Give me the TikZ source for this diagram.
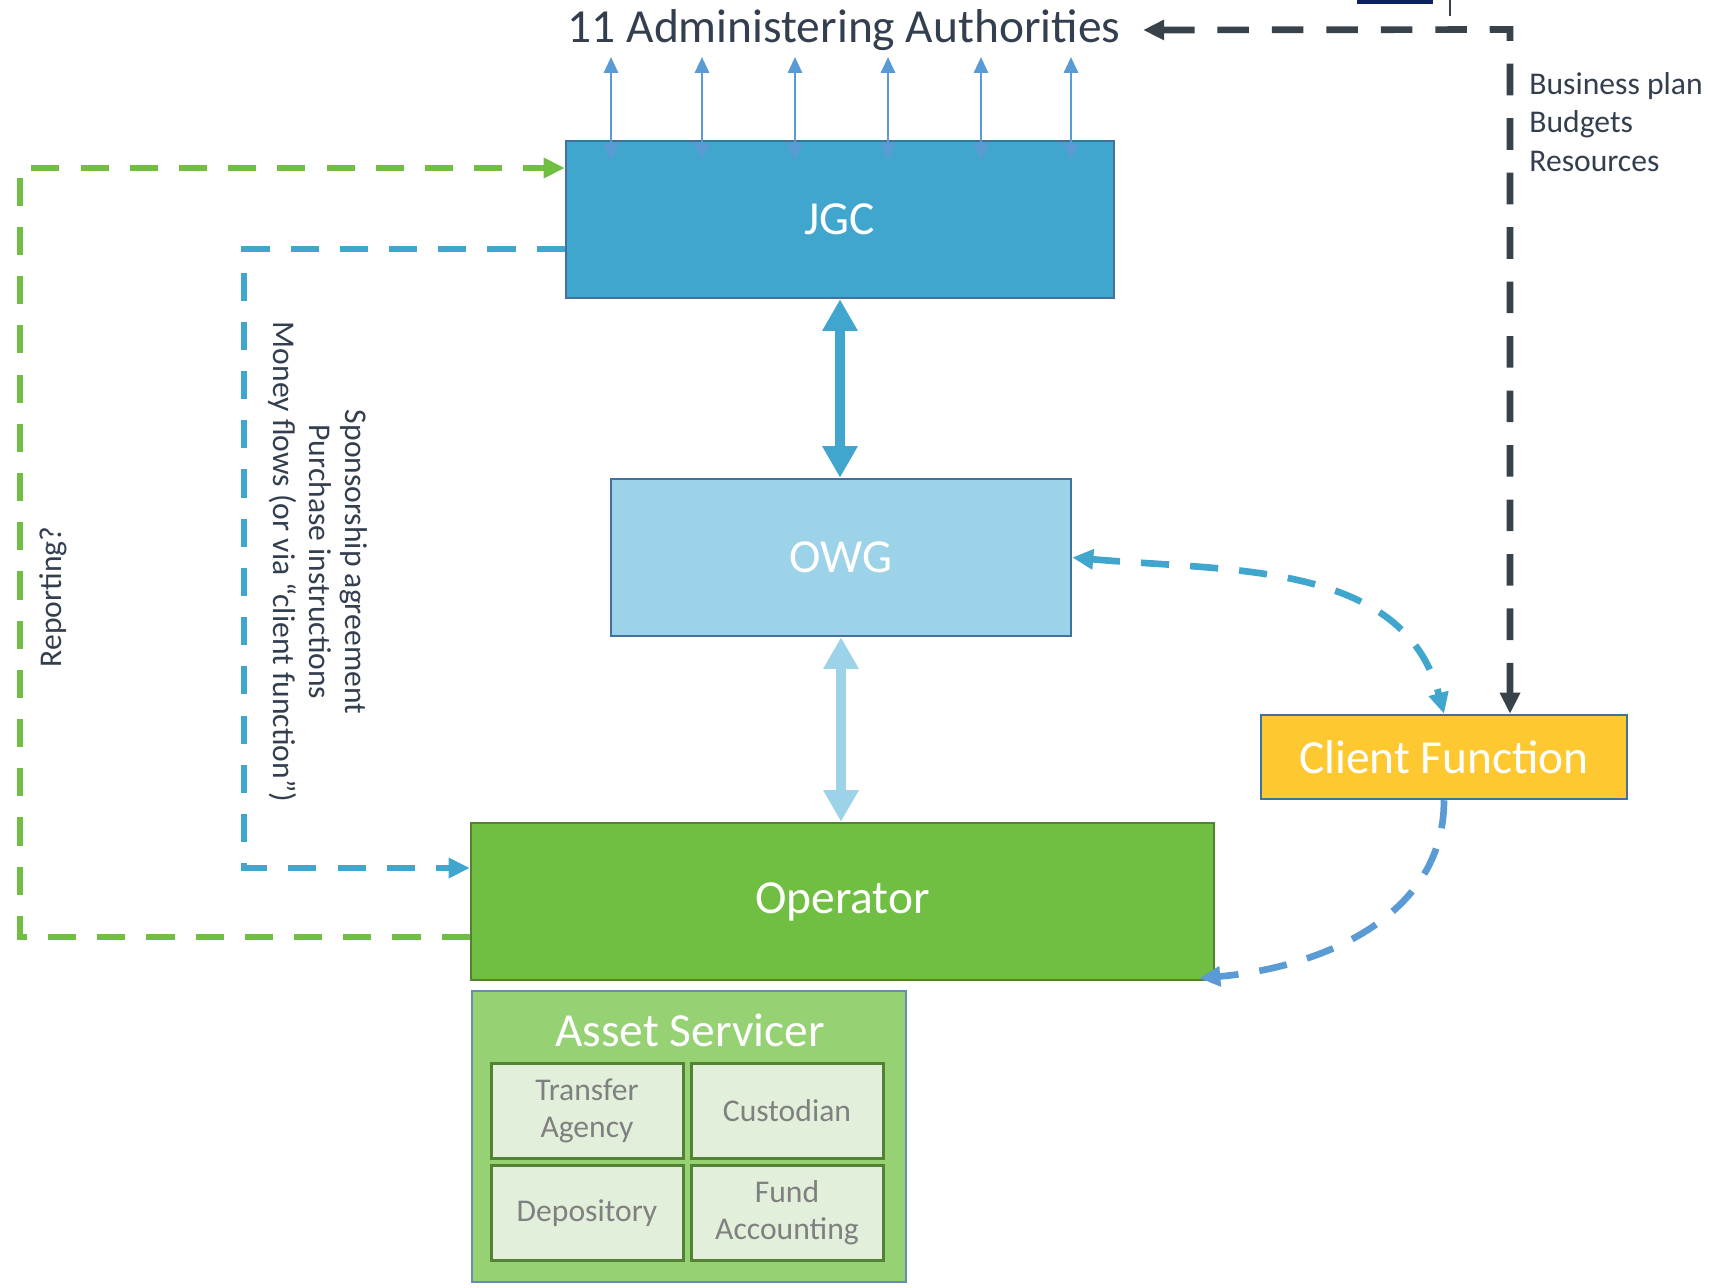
\documentclass[tikz,border=0pt]{standalone}
\usepackage{fontspec}
\setmainfont{Carlito}
\usepackage{xcolor}
\usetikzlibrary{arrows.meta,positioning,calc}
\definecolor{jgcblue}{HTML}{41A6CE}
\definecolor{owgblue}{HTML}{9DD3E8}
\definecolor{opgreen}{HTML}{70BF43}
\definecolor{opedge}{HTML}{548235}
\definecolor{asgreen}{HTML}{96D273}
\definecolor{subfill}{HTML}{E2EFDA}
\definecolor{cfyellow}{HTML}{FDC830}
\definecolor{edgeblue}{HTML}{41719C}
\definecolor{linkblue}{HTML}{5B9BD5}
\definecolor{slate}{HTML}{37424A}
\definecolor{txtdark}{HTML}{333F4F}
\definecolor{navy}{HTML}{0B2160}
\tikzset{
  box/.style={rectangle, draw=edgeblue, line width=1.4pt, align=center,
    text=white, font=\fontsize{27}{32}\selectfont, inner sep=0pt},
  subbox/.style={rectangle, draw=opedge, line width=1.7pt, fill=subfill,
    align=center, text=black!50, font=\fontsize{18}{21}\selectfont,
    inner sep=0pt, minimum width=3.84cm, minimum height=1.9cm},
  lbl/.style={text=txtdark, font=\fontsize{18}{20.5}\selectfont, align=center, inner sep=0pt},
  fatarrow/.style={{Triangle[length=18pt,width=19pt]}-{Triangle[length=18pt,width=19pt]}, line width=5.7pt},
  thinarrow/.style={{Triangle[length=9pt,width=8pt]}-{Triangle[length=9pt,width=8pt]}, line width=1.5pt, linkblue},
  dashflow/.style={-{Triangle[length=12pt,width=11pt]}, line width=3.8pt, dash pattern=on 16pt off 12pt},
}
\begin{document}
\begin{tikzpicture}
\useasboundingbox (0,0) rectangle (34.38,-25.74);
% Boxes
\node[lbl, font=\fontsize{27}{32}\selectfont, inner xsep=0.45cm] (title) at (16.88,-0.6) {11 Administering Authorities};
\node[box, fill=jgcblue, minimum width=10.96cm, minimum height=3.14cm] (jgc) at (16.8,-4.39) {JGC};
\node[box, fill=owgblue, minimum width=9.2cm, minimum height=3.14cm] (owg) at (16.82,-11.15) {OWG};
\node[box, fill=opgreen, draw=opedge, minimum width=14.86cm, minimum height=3.14cm] (op) at (16.85,-18.03) {Operator};
\node[box, fill=cfyellow, minimum width=7.32cm, minimum height=1.68cm] (cf) at (28.88,-15.14) {Client Function};
% Asset servicer group
\node[box, fill=asgreen, draw=edgeblue!80, minimum width=8.68cm, minimum height=5.82cm] (asset) at (13.78,-22.73) {};
\node[box, draw=none] (astitle) at (13.8,-20.6) {Asset Servicer};
\node[subbox] (ta)   at (11.74,-22.21) {Transfer\\Agency};
\node[subbox] (cust) at (15.74,-22.21) {Custodian};
\node[subbox] (dep)  at (11.74,-24.26) {Depository};
\node[subbox] (fa)   at (15.74,-24.26) {Fund\\Accounting};
% Labels
\node[lbl, font=\fontsize{18}{21.8}\selectfont, align=left, anchor=west] (plan) at (30.58,-2.44) {Business plan\\Budgets\\Resources};
\node[lbl, rotate=90] (rep) at (1.06,-11.94) {Reporting?};
\node[lbl, rotate=-90] (money) at (6.36,-11.24) {Sponsorship agreement\\Purchase instructions\\Money flows (or via “client function”)};
% Cut-off shapes at the top edge
\fill[navy] (27.14,0) rectangle (28.66,-0.08);
\draw[slate, line width=1pt] (29.0,0) -- (29.0,-0.32);
% Links to the authorities
\foreach \x in {12.22,14.04,15.9,17.76,19.62,21.42}
  \draw[thinarrow] ([yshift=-0.4cm]jgc.north -| \x,0) -- (\x,-1.14);
% Main links
\draw[fatarrow, jgcblue] (jgc.south) -- (jgc.south |- owg.north);
\draw[fatarrow, owgblue] (owg.south) -- (owg.south |- op.north);
% Dashed flows
\coordinate (repbot) at (0.4,-18.74);
\coordinate (reptop) at (0.4,-3.36);
\draw[dashflow, opgreen] (op.west |- repbot) -- (repbot) -- (reptop) -- (jgc.west |- reptop);
\coordinate (montop) at (4.88,-4.98);
\coordinate (monbot) at (4.88,-17.36);
\draw[dashflow, jgcblue] (jgc.west |- montop) -- (montop) -- (monbot) -- (op.west |- monbot);
\coordinate (bend) at (30.2,-0.59);
\draw[dashflow, slate, {Triangle[length=12pt,width=11pt]}-{Triangle[length=12pt,width=11pt]}, dash pattern=on 18pt off 13pt]
  (title.east) -- (bend) -- (bend |- cf.north);
\draw[dashflow, jgcblue, {Triangle[length=12pt,width=11pt]}-{Triangle[length=12pt,width=11pt]}]
  (owg.east) to[out=-5, in=105] (cf.north);
\draw[dashflow, linkblue] (cf.south) to[out=-90, in=5] ([xshift=-0.32cm,yshift=0.06cm]op.south east);
\end{tikzpicture}
\end{document}
